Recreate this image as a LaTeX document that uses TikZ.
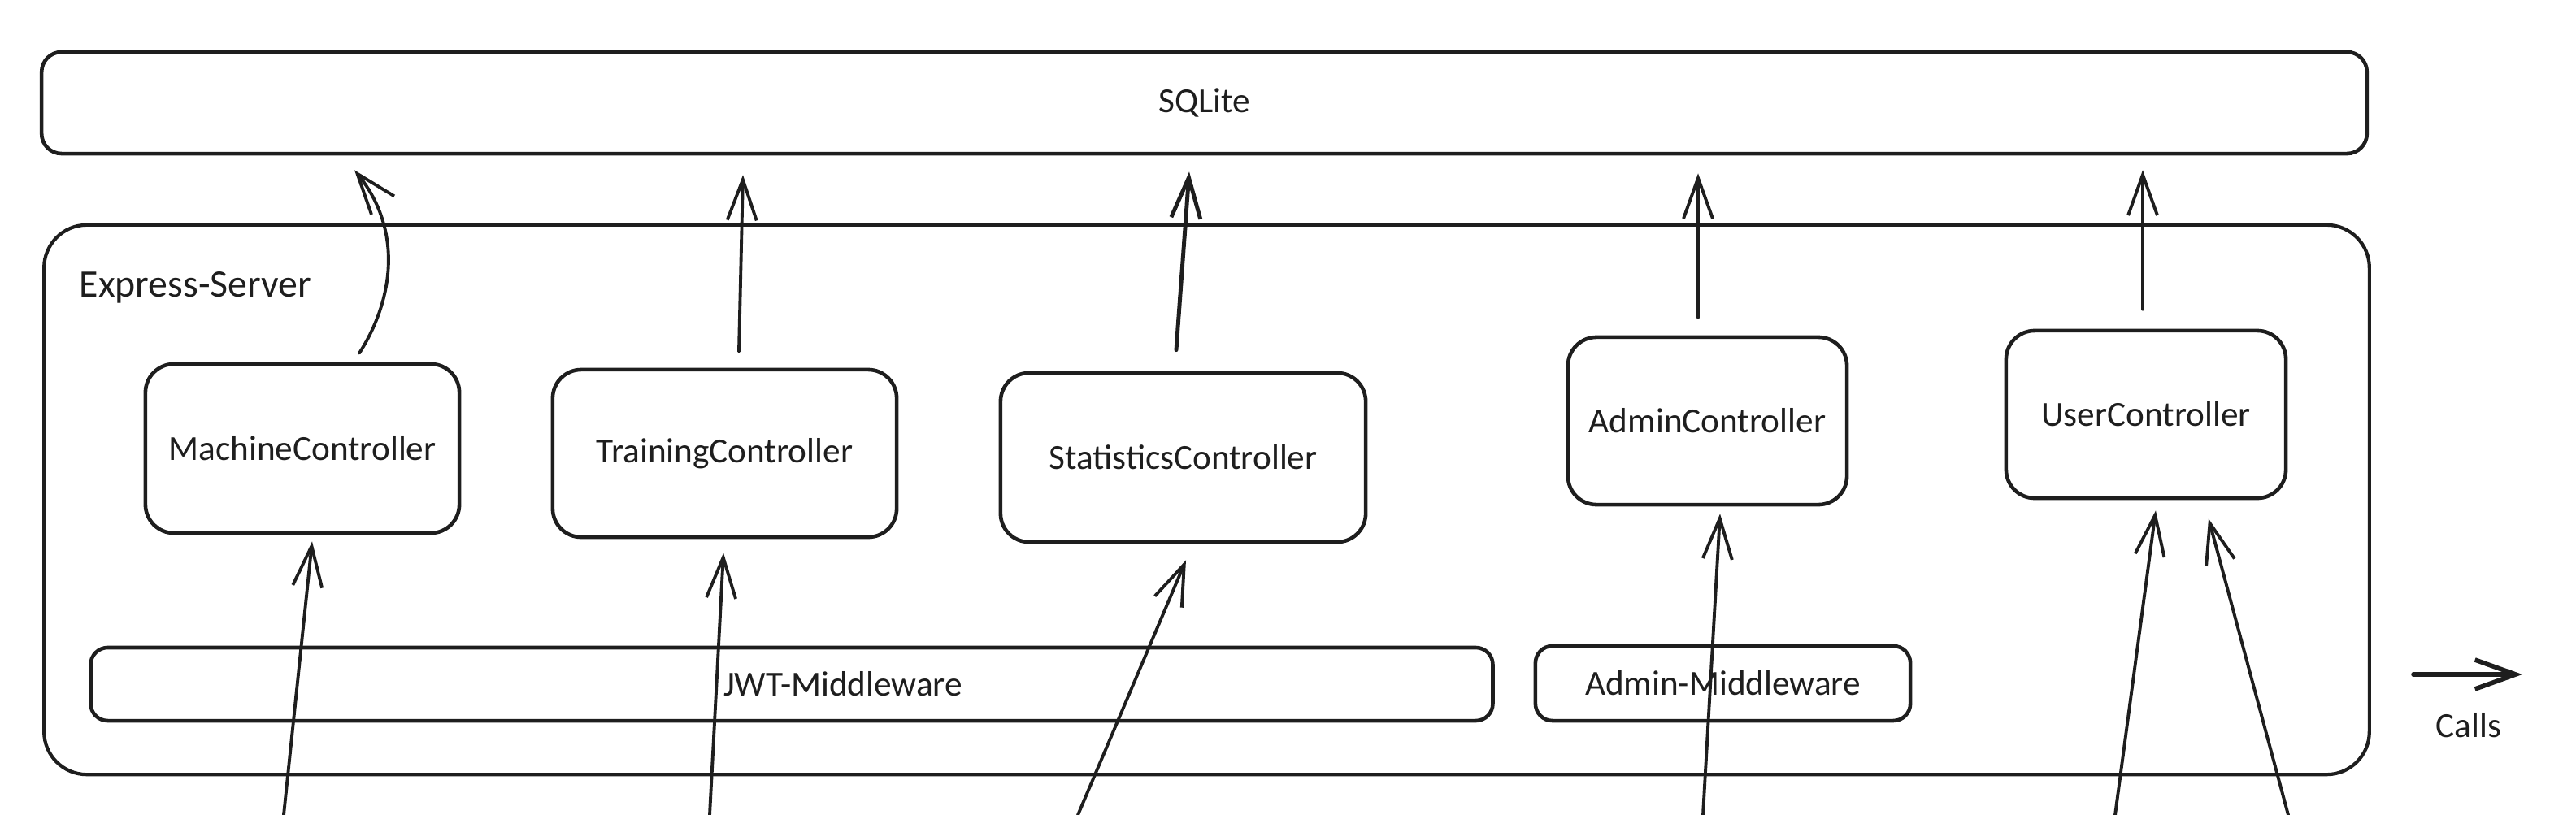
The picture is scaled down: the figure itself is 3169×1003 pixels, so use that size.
\documentclass[tikz,border=0pt]{standalone}
\usepackage{fontspec}
\setmainfont{Carlito}
\usetikzlibrary{arrows.meta,calc}
\definecolor{ink}{HTML}{1E1E1E}

\begin{document}
\begin{tikzpicture}[x=0.01cm, y=-0.01cm, >={Straight Barb[length=5mm,width=3.6mm]},
    every node/.style={font=\fontsize{12.3}{15}\selectfont, text=ink},
    box/.style={draw=ink, line width=1.3pt, rounded corners=10pt, inner sep=0pt},
    layer/.style={box, rounded corners=6pt},
    call/.style={->, draw=ink, line width=1.1pt, line cap=round}]
      \useasboundingbox (0, 0) rectangle (3169, 1003);

      \node[box, rounded corners=7pt, minimum width=28.59cm, minimum height=1.25cm] (db) at (1481.5, 126.5) {SQLite};
      \node[box, rounded corners=15pt, line width=1.2pt, minimum width=28.59cm, minimum height=6.76cm] (srv) at (1484.5, 615) {};
      \node[anchor=west, inner sep=0pt, font=\fontsize{13.6}{16}\selectfont] (srvname) at (97, 354) {Express-Server};

      \node[box, minimum width=3.86cm, minimum height=2.08cm] (mc) at (372, 552) {MachineController};
      \node[box, minimum width=4.23cm, minimum height=2.06cm] (tc) at (891.5, 558) {TrainingController};
      \node[box, minimum width=4.49cm, minimum height=2.08cm] (sc) at (1455.5, 563) {StatisticsController};
      \node[box, minimum width=3.43cm, minimum height=2.06cm] (ac) at (2100.5, 518) {AdminController};
      \node[box, minimum width=3.44cm, minimum height=2.06cm] (uc) at (2640, 510) {UserController};

      \node[layer, minimum width=17.24cm, minimum height=0.90cm,
            label={[xshift=0.63cm]center:JWT-Middleware}] (jwt) at (974, 842) {};
      \node[layer, minimum width=4.61cm, minimum height=0.92cm] (amw) at (2119.5, 841) {Admin-Middleware};

      \draw[call] ($(mc.north)+(70,-11)$) .. controls +(43,-67) and +(59,73) .. ($(mc.north |- db.south)+(64,18)$);
      \draw[call] ($(tc.north)+(17.5,-20)$) -- ($(tc.north |- db.south)+(22.5,24)$);
      \draw[call, line width=1.4pt] ($(sc.north)+(-8.5,-26)$) -- ($(sc.north |- db.south)+(7.5,20)$);
      \draw[call] ($(ac.north)+(-11.5,-22)$) -- ($(ac.north |- db.south)+(-11.5,22)$);
      \draw[call] ($(uc.north)+(-4,-24)$) -- ($(uc.north |- db.south)+(-4,18)$);

      \coordinate (inM) at (349, 1003);
      \coordinate (inT) at (873, 1003);
      \coordinate (inS) at (1326, 1003);
      \coordinate (inA) at (2095, 1003);
      \coordinate (inU) at (2602, 1003);
      \coordinate (inV) at (2815, 1003);
      \draw[call] (inM) -- ($(mc.south)+(12,8)$);
      \draw[call] (inT) -- ($(tc.south)+(-1.5,17)$);
      \draw[call] (inS) -- ($(sc.south)+(3.5,20)$);
      \draw[call] (inA) -- ($(ac.south)+(15.5,9)$);
      \draw[call] (inU) -- ($(uc.south)+(12,13)$);
      \draw[call] (inV) -- ($(uc.south)+(77,23)$);

      \coordinate (keyA) at (2969, 830);
      \coordinate (keyB) at (3103, 830);
      \draw[call, line width=1.6pt] (keyA) -- (keyB);
      \node (keytext) at (3037, 893) {Calls};
    \end{tikzpicture}
\end{document}
